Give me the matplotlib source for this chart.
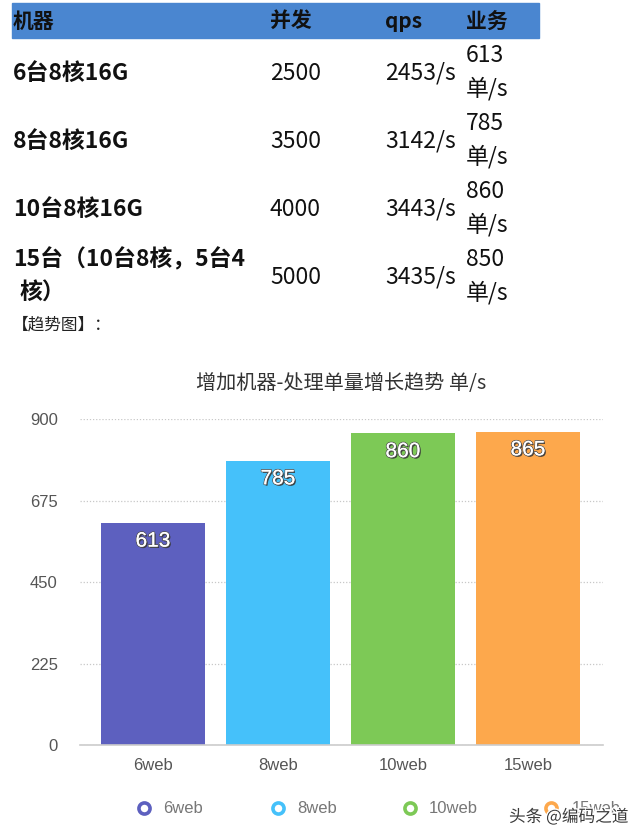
import matplotlib
matplotlib.use("Agg")
import matplotlib.pyplot as plt
from matplotlib.patches import Rectangle
from matplotlib.lines import Line2D
import matplotlib.patheffects as pe

plt.rcParams['font.family'] = ['Noto Sans CJK SC', 'DejaVu Sans']

# ---- table data ----
headers = ['机器', '并发', 'qps', '业务']
machines = ['6台8核16G', '8台8核16G', '10台8核16G', '15台（10台8核，5台4']
machines_extra = ['', '', '', '核）']
concurrency = [2500, 3500, 4000, 5000]
qps = [2453, 3142, 3443, 3435]
business = [613, 785, 860, 850]

# ---- chart data ----
chart_title = '增加机器-处理单量增长趋势 单/s'
categories = ['6web', '8web', '10web', '15web']
values = [613, 785, 860, 865]
colors = ['#5d60bf', '#45c1fa', '#7dc956', '#fda84c']
yticks = [0, 225, 450, 675, 900]

W, H = 640, 838
fig = plt.figure(figsize=(W / 100, H / 100), dpi=100)


def fx(x):
    return x / W


def fy(y):
    return 1 - y / H


# header band
fig.patches.append(Rectangle((fx(12), fy(38)), (539 - 12) / W, (38 - 3) / H,
                             transform=fig.transFigure, color='#4a86d0', zorder=0))
col_x = [13, 270, 385, 466]
for x, h in zip(col_x, headers):
    fig.text(fx(x), fy(21), h, fontsize=15, fontweight='bold', color='#111',
             ha='left', va='center')

row_y = [73, 141, 209, 277]
for i, y in enumerate(row_y):
    if machines_extra[i]:
        fig.text(fx(13), fy(y - 17), machines[i], fontsize=16.5, fontweight='bold',
                 color='#111', ha='left', va='center')
        fig.text(fx(20), fy(y + 16), machines_extra[i], fontsize=16.5, fontweight='bold',
                 color='#111', ha='left', va='center')
    else:
        fig.text(fx(13), fy(y), machines[i], fontsize=16.5, fontweight='bold',
                 color='#111', ha='left', va='center')
    fig.text(fx(270), fy(y), str(concurrency[i]), fontsize=16.5, color='#111',
             ha='left', va='center')
    fig.text(fx(385), fy(y), f'{qps[i]}/s', fontsize=16.5, color='#111',
             ha='left', va='center')
    fig.text(fx(466), fy(y - 17), str(business[i]), fontsize=16.5, color='#111',
             ha='left', va='center')
    fig.text(fx(466), fy(y + 16), '单/s', fontsize=16.5, color='#111',
             ha='left', va='center')

fig.text(fx(12), fy(325), '【趋势图】：', fontsize=12, color='#222',
         ha='left', va='center')

# ---- chart ----
fig.text(fx(341), fy(384), chart_title, fontsize=14.5, color='#333',
         ha='center', va='center')

ax = fig.add_axes([fx(80), fy(745), (603 - 80) / W, (745 - 419) / H])
xs = list(range(len(categories)))
ax.bar(xs, values, width=0.832, color=colors, zorder=2)
ax.set_xlim(-0.584, 3.6)
ax.set_ylim(0, 900)
ax.set_yticks(yticks)
ax.set_xticks(xs)
ax.set_xticklabels(categories)
for s in ['top', 'right', 'left']:
    ax.spines[s].set_visible(False)
ax.spines['bottom'].set_color('#cccccc')
ax.spines['bottom'].set_linewidth(1.2)
ax.tick_params(axis='both', length=0, labelsize=12, labelcolor='#555')
ax.tick_params(axis='y', pad=16)
ax.tick_params(axis='x', pad=9)
for lab in ax.get_xticklabels() + ax.get_yticklabels():
    lab.set_fontfamily('Liberation Sans')
ax.yaxis.grid(True, linestyle=(0, (1, 1.5)), color='#c8c8c8', linewidth=0.9, zorder=0)
ax.set_axisbelow(True)

for x, v in zip(xs, values):
    ax.text(x, v - 50, str(v), ha='center', va='center', color='white', fontsize=15,
            family='Liberation Sans', zorder=3,
            path_effects=[pe.SimplePatchShadow(offset=(1, -1), shadow_rgbFace='#333333', alpha=0.9),
                          pe.withStroke(linewidth=1.2, foreground='#555555'),
                          pe.Normal()])

# ---- legend ----
leg_marker_x = [144, 278, 410, 551]
leg_text_x = [163, 297, 429, 572]
for mx, tx, c, lab in zip(leg_marker_x, leg_text_x, colors, categories):
    fig.add_artist(Line2D([fx(mx)], [fy(808)], marker='o', markersize=8,
                          markerfacecolor='white', markeredgecolor=c,
                          markeredgewidth=2.6, transform=fig.transFigure))
    fig.text(fx(tx), fy(808), lab, fontsize=12, color='#777', family='Liberation Sans',
             ha='left', va='center')

# watermark
fig.text(fx(509), fy(817), '头条 @编码之道', fontsize=12, color='#3a3a3a',
         ha='left', va='center',
         path_effects=[pe.withStroke(linewidth=2, foreground='white')])

fig.savefig('out.png', dpi=100)
